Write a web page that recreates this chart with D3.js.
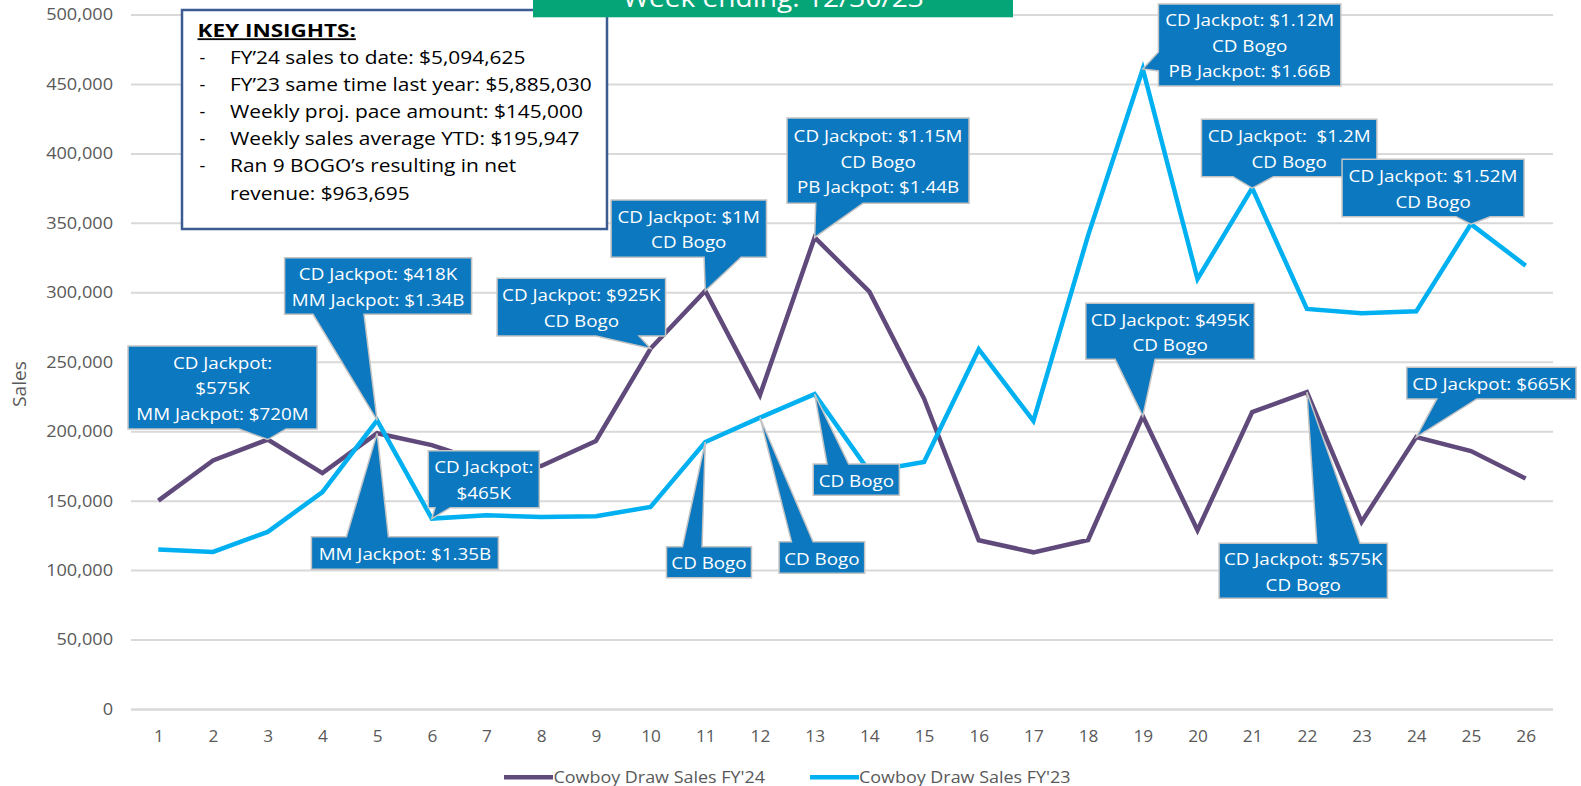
<!DOCTYPE html>
<html><head><meta charset="utf-8">
<script src="https://cdn.jsdelivr.net/npm/d3@7"></script>
<style>html,body{margin:0;padding:0;background:#fff;overflow:hidden}</style>
</head><body>
<svg id="chart" width="1581" height="786"></svg>
<script>
// ---------- data ----------
const weeks = [1,2,3,4,5,6,7,8,9,10,11,12,13,14,15,16,17,18,19,20,21,22,23,24,25,26];
const fy24Sales = [150000,179000,194000,169800,198500,190000,177000,175000,193000,259500,301000,226000,339500,300500,223500,121500,112800,121700,210800,128700,213800,228100,134700,195800,185700,165900];
const fy23Sales = [114800,113100,127500,156200,207800,137100,139500,138300,138800,145500,192200,209800,226700,171000,177800,259000,207400,341000,460800,309600,375000,288000,284900,286300,349100,319200];
const yTickValues = [0,50000,100000,150000,200000,250000,300000,350000,400000,450000,500000];
const seriesNames = ["Cowboy Draw Sales FY'24","Cowboy Draw Sales FY'23"];
const titleText = "Week ending: 12/30/23";
const yAxisTitle = "Sales";
const insightsHeader = "KEY INSIGHTS:";
const insightsLines = [
  {dash:true, text:"FY\u201924 sales to date: $5,094,625"},
  {dash:true, text:"FY\u201923 same time last year: $5,885,030"},
  {dash:true, text:"Weekly proj. pace amount: $145,000"},
  {dash:true, text:"Weekly sales average YTD: $195,947"},
  {dash:true, text:"Ran 9 BOGO\u2019s resulting in net"},
  {dash:false, text:"revenue: $963,695"}
];
const calloutTexts = [
  {series:0, week:3,  lines:["CD Jackpot:","$575K","MM Jackpot: $720M"]},
  {series:1, week:5,  lines:["CD Jackpot: $418K","MM Jackpot: $1.34B"]},
  {series:0, week:5,  lines:["MM Jackpot: $1.35B"]},
  {series:1, week:6,  lines:["CD Jackpot:","$465K"]},
  {series:0, week:10, lines:["CD Jackpot: $925K","CD Bogo"]},
  {series:0, week:11, lines:["CD Jackpot: $1M","CD Bogo"]},
  {series:0, week:13, lines:["CD Jackpot: $1.15M","CD Bogo","PB Jackpot: $1.44B"]},
  {series:1, week:11, lines:["CD Bogo"]},
  {series:1, week:12, lines:["CD Bogo"]},
  {series:1, week:13, lines:["CD Bogo"]},
  {series:1, week:19, lines:["CD Jackpot: $1.12M","CD Bogo","PB Jackpot: $1.66B"]},
  {series:1, week:21, lines:["CD Jackpot:  $1.2M","CD Bogo"]},
  {series:1, week:25, lines:["CD Jackpot: $1.52M","CD Bogo"]},
  {series:0, week:19, lines:["CD Jackpot: $495K","CD Bogo"]},
  {series:0, week:22, lines:["CD Jackpot: $575K","CD Bogo"]},
  {series:0, week:24, lines:["CD Jackpot: $665K"]}
];
// callout layout (box offset from anchor point: dx, dy, w, h; pointer edge and base along edge)
const calloutLayout = [
  {box:[-139.7,-93.6,189,83],  edge:"bottom", base:[111,158]},
  {box:[-92.5,-162.7,187,56.6], edge:"bottom", base:[28.4,79.4]},
  {box:[-65.7,103.4,187,32.6], edge:"top", base:[35,77]},
  {box:[-3.5,-67.9,111,57],    edge:"bottom", base:[6.7,22]},
  {box:[-153.5,-70.3,168.5,57.7], edge:"bottom", base:[99,142]},
  {box:[-94.2,-90.9,155.4,57.3], edge:"bottom", base:[93,130]},
  {box:[-27.6,-119.5,182,85.3], edge:"bottom", base:[28.7,76]},
  {box:[-38.8,104.6,85,31],     edge:"top", base:[16,35.6]},
  {box:[19.1,124.1,85.6,31.6],  edge:"top", base:[12.4,34]},
  {box:[-1.4,69.9,86.1,31.3],   edge:"top", base:[13.8,35.4]},
  {box:[15.6,-65,182.4,82],     edge:"left", base:[48,67]},
  {box:[-50.7,-68.9,175.4,57.4], edge:"bottom", base:[31.6,72]},
  {box:[-128.9,-64.8,182,57.4], edge:"bottom", base:[114,148]},
  {box:[-57,-112.9,168.6,56],   edge:"bottom", base:[29.3,69.3]},
  {box:[-87.8,151.1,168.3,55],  edge:"top", base:[97.7,141]},
  {box:[-9.5,-69.8,169.3,31.7], edge:"bottom", base:[30,70]}
];

// ---------- setup ----------
const plot = {left:131, right:1553, top:14.5, bottom:709};
const colors = ["#604A7B", "#00B0F0"];
const FONT = "'Open Sans', 'DejaVu Sans', sans-serif";
const svg = d3.select("#chart");

function stretch(sel, k){
  sel.each(function(){
    const w = this.getComputedTextLength();
    if (w > 0){ this.setAttribute("textLength", w*k); this.setAttribute("lengthAdjust","spacingAndGlyphs"); }
  });
}

const x = d3.scalePoint().domain(weeks).range([plot.left, plot.right]).padding(0.5);
const y = d3.scaleLinear().domain([0, 500000]).range([plot.bottom, plot.top]);

// gridlines
const grid = svg.append("g").attr("transform", `translate(${plot.left},0)`)
  .call(d3.axisLeft(y).tickValues(yTickValues).tickSize(-(plot.right-plot.left)).tickFormat(""));
grid.select(".domain").remove();
grid.selectAll("line").attr("stroke", "#D9D9D9").attr("stroke-width", 2);
grid.selectAll(".tick").filter(d => d === 0).select("line").attr("stroke-width", 2.6);

// y axis labels
const yAxis = svg.append("g").attr("transform", `translate(${plot.left},0)`)
  .call(d3.axisLeft(y).tickValues(yTickValues).tickSize(0).tickPadding(18).tickFormat(d3.format(",")));
yAxis.select(".domain").remove();
yAxis.selectAll("text").attr("font-family", FONT).attr("font-size", 16.8).attr("fill", "#595959");
stretch(yAxis.selectAll("text"), 1.08);

// x axis labels
const xAxis = svg.append("g").attr("transform", `translate(0,${plot.bottom})`)
  .call(d3.axisBottom(x).tickSize(0).tickPadding(21));
xAxis.select(".domain").remove();
xAxis.selectAll("text").attr("font-family", FONT).attr("font-size", 16.4).attr("fill", "#595959");
stretch(xAxis.selectAll("text"), 1.05);

// y title
const yt = svg.append("text").attr("transform", "translate(25.5,384) rotate(-90)")
  .attr("text-anchor", "middle").attr("font-family", FONT).attr("font-size", 17.5)
  .attr("fill", "#595959").text(yAxisTitle);
stretch(yt, 1.1);

// lines
const seriesData = [fy24Sales, fy23Sales];
const line = d3.line().x((d,i) => x(weeks[i])).y(d => y(d));
seriesData.forEach((s, si) => {
  svg.append("path").datum(s).attr("d", line).attr("fill", "none")
    .attr("stroke", colors[si]).attr("stroke-width", 4.5).attr("stroke-linejoin", "miter")
    .attr("stroke-miterlimit", 6);
});

// callouts
const cg = svg.append("g");
calloutTexts.forEach((c, ci) => {
  const L = calloutLayout[ci];
  const idx = weeks.indexOf(c.week);
  const px = x(c.week), py = y(seriesData[c.series][idx]);
  const x0 = px + L.box[0], y0 = py + L.box[1], x1 = x0 + L.box[2], y1 = y0 + L.box[3];
  let pts;
  if (L.edge === "bottom") {
    pts = [[x0,y0],[x1,y0],[x1,y1],[x0+L.base[1],y1],[px,py],[x0+L.base[0],y1],[x0,y1]];
  } else if (L.edge === "top") {
    pts = [[x0,y0],[x0+L.base[0],y0],[px,py],[x0+L.base[1],y0],[x1,y0],[x1,y1],[x0,y1]];
  } else {
    pts = [[x0,y0],[x1,y0],[x1,y1],[x0,y1],[x0,y0+L.base[1]],[px,py],[x0,y0+L.base[0]]];
  }
  cg.append("path").attr("d", "M" + pts.map(p => p.join(",")).join("L") + "Z")
    .attr("fill", "#0B78BF").attr("stroke", "#C4C4C4").attr("stroke-width", 1.5)
    .attr("stroke-linejoin", "miter");
  const cx = (x0 + x1) / 2, cy = (y0 + y1) / 2 + 1;
  const n = c.lines.length;
  const t = cg.selectAll(null).data(c.lines).enter().append("text")
    .attr("x", cx).attr("y", (d,i) => cy + (i - (n-1)/2) * 25.5).attr("dy", "0.36em")
    .attr("text-anchor", "middle").attr("font-family", FONT).attr("font-size", 16.8)
    .attr("fill", "#FFFFFF").style("white-space", "pre").text(d => d);
  stretch(t, 1.12);
});

// key insights box
const kb = svg.append("g");
kb.append("rect").attr("x", 182).attr("y", 10).attr("width", 425).attr("height", 219)
  .attr("fill", "#FFFFFF").attr("stroke", "#3B5B92").attr("stroke-width", 2.5);
const kh = kb.append("text").attr("x", 197.5).attr("y", 37.3).attr("font-family", FONT)
  .attr("font-size", 18).attr("font-weight", "bold").attr("text-decoration", "underline")
  .attr("fill", "#000").text(insightsHeader);
stretch(kh, 1.25);
insightsLines.forEach((l, i) => {
  const by = 64 + i * 27.1;
  if (l.dash) kb.append("text").attr("x", 199.5).attr("y", by).attr("font-family", FONT)
    .attr("font-size", 18).attr("fill", "#000").text("-");
  const tt = kb.append("text").attr("x", 230).attr("y", by).attr("font-family", FONT)
    .attr("font-size", 18).attr("fill", "#000").text(l.text);
  stretch(tt, 1.16);
});

// title box (partially visible, cut at top like the reference)
svg.append("rect").attr("x", 533).attr("y", -20).attr("width", 480).attr("height", 37.3).attr("fill", "#06A577");
const tt = svg.append("text").attr("x", 773.5).attr("y", 7.3).attr("text-anchor", "middle")
  .attr("font-family", FONT).attr("font-size", 26).attr("fill", "#FFFFFF").text(titleText);
stretch(tt, 1.08);

// legend
const legendItems = [{sx:504, tx:553.5}, {sx:810, tx:859}];
seriesNames.forEach((nm, i) => {
  const it = legendItems[i];
  svg.append("line").attr("x1", it.sx).attr("x2", it.sx + 49).attr("y1", 777.3).attr("y2", 777.3)
    .attr("stroke", colors[i]).attr("stroke-width", 4.5);
  const lt = svg.append("text").attr("x", it.tx).attr("y", 782.5).attr("font-family", FONT)
    .attr("font-size", 16).attr("fill", "#595959").text(nm);
  stretch(lt, 1.12);
});
</script>
</body></html>
